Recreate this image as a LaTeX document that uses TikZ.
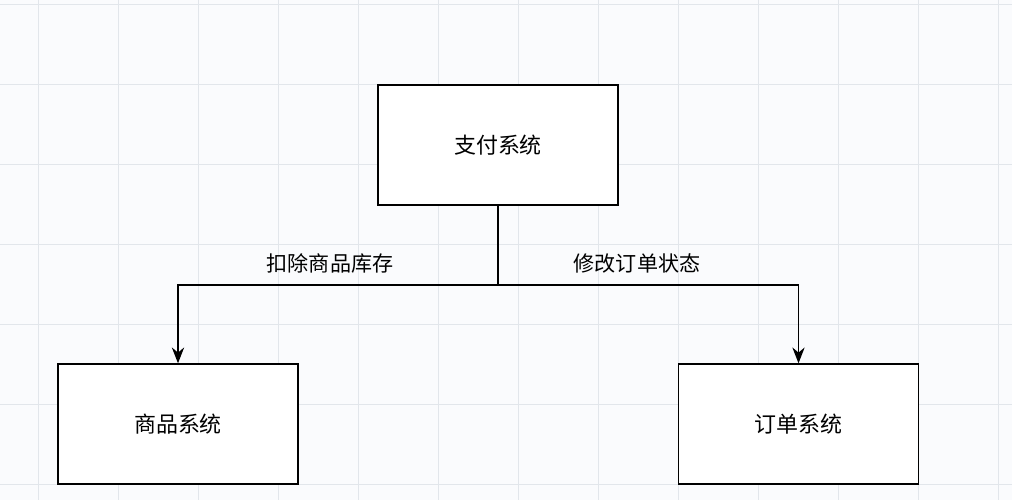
\documentclass[tikz,border=0pt]{standalone}
\usepackage{fontspec}
\newfontfamily\cjk{Noto Sans CJK SC}
\usetikzlibrary{arrows.meta,positioning}
\definecolor{gridgray}{HTML}{E2E6EB}
\definecolor{paper}{HTML}{FAFBFD}
\tikzset{
    sysbox/.style={draw, thick, fill=white, minimum width=4.8cm, minimum height=2.4cm, font=\cjk\fontsize{12.5}{14}\selectfont},
    edgelabel/.style={font=\cjk\fontsize{12}{14}\selectfont},
    flow/.style={thick, -{Stealth[length=9pt,width=7pt]}}
}
\begin{document}
\begin{tikzpicture}
    \fill[paper] (0,0) rectangle (20.24,10);
    \useasboundingbox (0,0) rectangle (20.24,10);
    % background grid
    \foreach \x in {0,...,12}{
    \draw[gridgray] ({0.76+1.6*\x},0) -- ({0.76+1.6*\x},10);}
    \foreach \y in {0,...,6}{
    \draw[gridgray] (0,{9.92-1.6*\y}) -- (20.24,{9.92-1.6*\y});}
    \node[sysbox] (pay) at (9.96,7.1) {支付系统};
    \node[sysbox] (goods) at (3.56,1.52) {商品系统};
    \node[sysbox] (order) at (15.97,1.52) {订单系统};
    \coordinate (split) at (pay.south |- 0,4.3);
    \draw[thick] (pay.south) -- (split);
    \draw[flow] (split) -| (goods.north);
    \draw[flow] (split) -| (order.north);
    \node[edgelabel] (minus) at (6.6,4.74) {扣除商品库存};
    \node[edgelabel] (modify) at (12.74,4.74) {修改订单状态};
\end{tikzpicture}
\end{document}
